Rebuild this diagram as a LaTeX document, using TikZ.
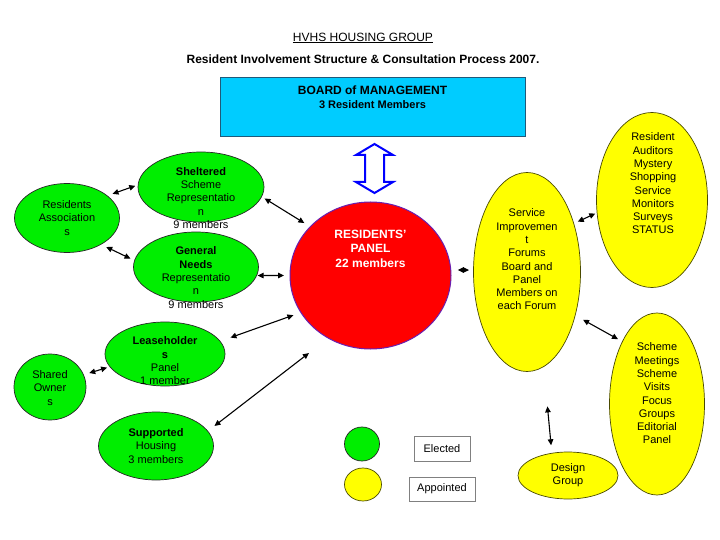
\documentclass[tikz,border=0pt]{standalone}
\usepackage{fontspec}
\setmainfont{Liberation Sans}
\usepackage{xcolor}
\usetikzlibrary{shapes.geometric,arrows.meta}
\definecolor{elgreen}{HTML}{00EE00}
\definecolor{apyellow}{HTML}{FFFF00}
\definecolor{apline}{HTML}{4A4A00}
\definecolor{boardcyan}{HTML}{00CCFF}
\definecolor{boardline}{HTML}{1F5A7A}
\definecolor{panelline}{HTML}{6A1FB0}
\definecolor{keygray}{HTML}{808080}

\begin{document}
\begin{tikzpicture}[x=1pt,y=-1pt,
  el/.style={ellipse,draw=black!85,fill=elgreen,line width=0.7pt,inner sep=0pt,outer sep=0pt},
  ap/.style={ellipse,draw=apline,fill=apyellow,line width=0.7pt,inner sep=0pt,outer sep=0pt},
  tx/.style={align=center,inner sep=0pt,font=\fontsize{11}{13.3}\selectfont},
  k/.style={draw=keygray,fill=white,line width=1pt,inner sep=0pt,font=\fontsize{11}{13.3}\selectfont},
  a/.style={{Triangle[length=6pt,width=5.5pt]}-{Triangle[length=6pt,width=5.5pt]},line width=1.1pt}]
\useasboundingbox (0,0) rectangle (720,540);

% heading
\node[tx,font=\fontsize{12}{14}\selectfont] (ttl) at (363,38) {\underline{HVHS HOUSING GROUP}};
\node[tx,font=\fontsize{12}{14}\selectfont\bfseries] (sub) at (363,59)
  {Resident Involvement Structure \& Consultation Process 2007.};

% board
\node[draw=boardline,fill=boardcyan,line width=1pt,minimum width=305pt,minimum height=59pt,
      inner sep=0pt] (board) at (372.5,107.5) {};
\node[tx,font=\fontsize{12}{14}\selectfont\bfseries] (boardt) at (372.5,97)
  {BOARD of MANAGEMENT\\\fontsize{11}{14}\selectfont 3 Resident Members};
\coordinate (updn) at (374.5,168.5);
\draw[blue,line width=2pt,fill=white,line join=miter] ([yshift=24.5pt]updn)
  -- ++(18.5,11) -- ++(-9,0) -- ++(0,27) -- ++(9,0) -- ++(-18.5,11)
  -- ++(-18.5,-11) -- ++(9,0) -- ++(0,-27) -- ++(-9,0) -- cycle;

% panel
\node[ellipse,draw=panelline,fill=red,line width=1pt,minimum width=161pt,minimum height=147pt,
      inner sep=0pt,outer sep=0pt] (panel) at (370.5,275.5) {};
\node[tx,text=white,font=\fontsize{12}{14.5}\selectfont\bfseries] (panelt) at (370.5,248.5)
  {RESIDENTS'\\PANEL\\22 members};

% elected groups
\node[el,minimum width=105pt,minimum height=69pt] (ra) at (67,218) {};
\node[tx] (rat) at (67,218) {Residents\\Association\\s};
\node[el,minimum width=126pt,minimum height=70pt] (shelt) at (201,187) {};
\node[tx] (sheltt) at (201,198) {\textbf{Sheltered}\\Scheme\\Representatio\\n\\9 members};
\node[el,minimum width=125pt,minimum height=70pt] (gen) at (196,267) {};
\node[tx] (gent) at (196,277.5) {\textbf{General}\\\textbf{Needs}\\Representatio\\n\\9 members};
\node[el,minimum width=120pt,minimum height=64pt] (lease) at (165,354) {};
\node[tx] (leaset) at (165,361) {\textbf{Leaseholder}\\\textbf{s}\\Panel\\1 member};
\node[el,minimum width=72pt,minimum height=66pt] (shared) at (50,387) {};
\node[tx] (sharedt) at (50,388) {Shared\\Owner\\s};
\node[el,minimum width=115pt,minimum height=68pt] (supp) at (156,446) {};
\node[tx] (suppt) at (156,446) {\textbf{Supported}\\Housing\\3 members};

% appointed groups
\node[ap,minimum width=107pt,minimum height=199pt] (serv) at (527,272) {};
\node[tx] (servt) at (527,259.5)
  {Service\\Improvemen\\t\\Forums\\Board and\\Panel\\Members on\\each Forum};
\node[ap,minimum width=111pt,minimum height=175pt] (audit) at (652,200) {};
\node[tx] (auditt) at (653,183.5)
  {Resident\\Auditors\\Mystery\\Shopping\\Service\\Monitors\\Surveys\\STATUS};
\node[ap,minimum width=95pt,minimum height=182pt] (scheme) at (657,404) {};
\node[tx] (schemet) at (657,393.5)
  {Scheme\\Meetings\\Scheme\\Visits\\Focus\\Groups\\Editorial\\Panel};
\node[ap,minimum width=100pt,minimum height=47pt] (design) at (568,475.5) {};
\node[tx] (designt) at (568,475.5) {Design\\Group};

% key
\node[el,minimum width=35pt,minimum height=34pt] (kel) at (362,444) {};
\node[ap,minimum width=37pt,minimum height=33pt] (kap) at (363,484.5) {};
\node[k,minimum width=56pt,minimum height=25pt] (kelt) at (442,448.5) {Elected};
\node[k,minimum width=66pt,minimum height=24pt] (kapt) at (442,489) {Appointed};

% links
\draw[a,shorten <=5.7pt,shorten >=3pt] (ra.29) -- (shelt.178);
\draw[a,shorten <=6pt,shorten >=4.5pt] (ra.-38) -- (gen.174);
\draw[a,shorten <=3.5pt,shorten >=7pt] (shelt.-9) -- (panel.141.7);
\draw[a,shorten <=1pt,shorten >=6pt] (gen.-8) -- (panel.180);
\draw[a,shorten <=11pt,shorten >=8pt] (lease.13) -- (panel.208);
\draw[a,shorten <=6pt,shorten >=3pt] (shared.20) -- (lease.193);
\draw[a,shorten <=8.5pt,shorten >=24.5pt] (supp.16) -- (panel.236);
\draw[a,shorten <=7pt,shorten >=4.5pt] (panel.4) -- (serv.178);
\draw[a,shorten <=4.4pt,shorten >=2pt] (serv.46) -- (audit.193);
\draw[a,shorten <=9pt,shorten >=5pt] (serv.-42) -- (scheme.119);
\draw[a,shorten <=40pt,shorten >=8pt] (serv.-80.4) -- (design.126.3);
\end{tikzpicture}
\end{document}
